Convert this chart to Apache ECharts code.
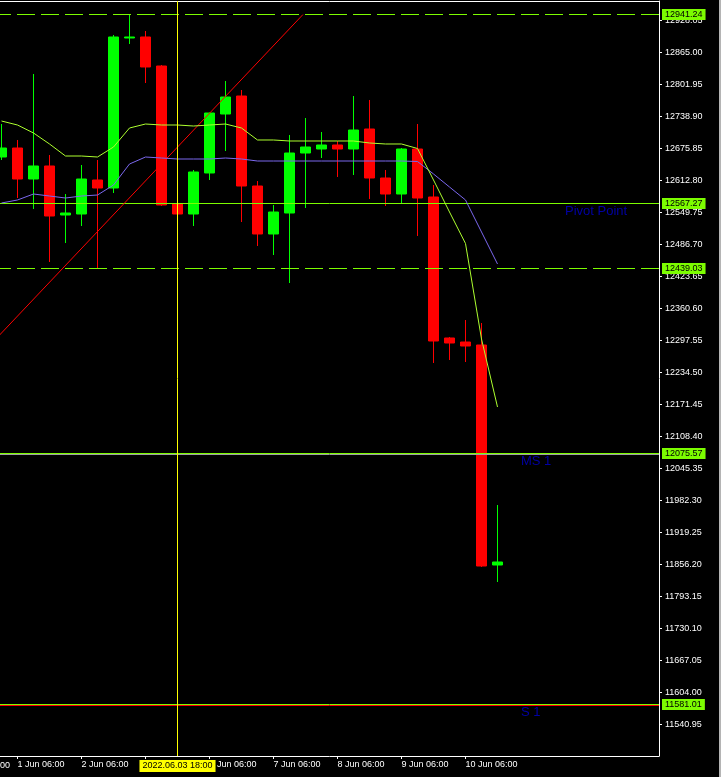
<!DOCTYPE html>
<html><head><meta charset="utf-8">
<script src="https://cdn.jsdelivr.net/npm/echarts@6/dist/echarts.min.js"></script>
<style>html,body{margin:0;padding:0;background:#000;}#c{width:721px;height:777px;}</style>
</head><body><div id="c"></div>
<script>
// ---- data ----
const times = ['1 Jun 00:00','1 Jun 06:00','1 Jun 12:00','1 Jun 18:00','2 Jun 00:00',
  '2 Jun 06:00','2 Jun 12:00','2 Jun 18:00','3 Jun 00:00',
  '3 Jun 06:00','3 Jun 12:00','3 Jun 18:00','6 Jun 00:00',
  '6 Jun 06:00','6 Jun 12:00','6 Jun 18:00','7 Jun 00:00',
  '7 Jun 06:00','7 Jun 12:00','7 Jun 18:00','8 Jun 00:00',
  '8 Jun 06:00','8 Jun 12:00','8 Jun 18:00','9 Jun 00:00',
  '9 Jun 06:00','9 Jun 12:00','9 Jun 18:00','10 Jun 00:00',
  '10 Jun 06:00','10 Jun 12:00','10 Jun 18:00'];
const opens  = [12659.50,12677.23,12616.15,12641.77,12545.22,12547.19,12614.18,12598.42,12893.97,12895.94,12838.80,12566.90,12547.19,12627.98,12744.22,12779.69,12602.36,12507.79,12549.16,12667.38,12675.26,12683.15,12675.26,12714.67,12618.12,12586.60,12675.26,12580.69,12302.88,12294.99,12289.08,11855.61];
const closes = [12677.23,12616.15,12641.77,12543.25,12549.16,12616.15,12598.42,12895.94,12895.94,12836.83,12564.93,12547.19,12629.95,12746.19,12777.72,12602.36,12507.79,12551.13,12667.38,12679.20,12683.15,12675.26,12712.70,12618.12,12586.60,12675.26,12578.72,12296.96,12293.02,12287.11,11853.64,11861.53];
const lows   = [12653.59,12578.72,12557.05,12452.62,12490.05,12523.55,12440.80,12588.57,12882.15,12805.30,12562.96,12545.22,12523.55,12614.18,12671.32,12531.43,12484.14,12466.41,12411.24,12559.02,12657.53,12620.10,12624.04,12576.75,12562.96,12566.90,12503.85,12253.62,12259.53,12255.59,11851.67,11822.12];
const highs  = [12724.52,12693.00,12823.04,12663.44,12586.60,12643.74,12653.59,12899.88,12941.24,12907.76,12840.77,12566.90,12633.89,12747.00,12809.25,12791.51,12612.21,12564.93,12702.85,12736.34,12708.76,12691.03,12779.69,12771.81,12633.89,12677.23,12724.52,12604.32,12304.85,12338.34,12332.43,11973.83];
const maFast = [12730.43,12722.55,12706.79,12685.12,12661.47,12661.47,12659.50,12679.20,12716.64,12724.52,12722.55,12722.55,12720.58,12722.55,12724.52,12716.64,12693.00,12693.00,12691.03,12691.03,12691.03,12691.03,12691.03,12687.09,12685.12,12685.12,12676.25,12614.18,12551.13,12489.07,12300.90,12166.92];
const maSlow = [12568.87,12574.78,12586.60,12582.66,12578.72,12582.66,12584.63,12604.33,12645.71,12659.50,12657.53,12655.56,12655.56,12655.56,12657.53,12655.56,12651.62,12651.62,12651.62,12651.62,12651.62,12651.62,12651.62,12651.62,12651.62,12651.62,12650.64,12626.01,12600.39,12574.78,12511.73,12448.68];
const yTicks = [11540.95,11604.00,11667.05,11730.10,11793.15,11856.20,11919.25,11982.30,12045.35,12108.40,12171.45,12234.50,12297.55,12360.60,12423.65,12486.70,12549.75,12612.80,12675.85,12738.90,12801.95,12865.00,12928.05];
const dashedLevels = [12941.24, 12439.03];
const solidLevels = [12567.27, 12075.57, 11581.01];
const pivotNames = ['Pivot Point', 'MS 1', 'S 1'];
const pivotValues = [12567.27, 12073.60, 11579.04];
const pivotLabelTime = [35.22, 32.47, 32.47];
const trendTime = [-1, 18.84];
const trendPrice = [12279.43, 12940.17];
const crosshairIndex = 11;
const crosshairTime = '2022.06.03 18:00';
const offLeftLabel = '31 May 06:00';

// ---- chart ----
const FONT = '"Liberation Sans", Arial, sans-serif';
const X_MIN = -0.09375, X_MAX = 41.09375;
const Y_MIN = 11479.29, Y_MAX = 12966.87;
const LIME = '#7cfc00';
const candleData = times.map((t, i) => [i, opens[i], closes[i], lows[i], highs[i]]);
const xTickIdx = times.map((t, i) => t.endsWith('06:00') ? i : -1).filter(i => i >= 0);

// kinds: 0 dashed lime w/ badge, 1 solid lime w/ badge, 2 gray pivot line, 3 red pivot line
const LEVEL_STYLES = [
  {color: LIME, dash: [18, 6], dashOffset: 7, badge: true},
  {color: LIME, dash: null, dashOffset: 0, badge: true},
  {color: '#a0a0a0', dash: null, dashOffset: 0, badge: false},
  {color: '#ff0000', dash: null, dashOffset: 0, badge: false}
];
const levelData = [];
dashedLevels.forEach(v => levelData.push([0, v]));
solidLevels.forEach(v => levelData.push([1, v]));
levelData.push([2, pivotValues[1]]);
levelData.push([3, pivotValues[2]]);

function renderLevel(params, api) {
  const kind = api.value(0), v = api.value(1);
  const cs = params.coordSys;
  const y = Math.floor(api.coord([X_MIN, v])[1]) + 0.5;
  const st = LEVEL_STYLES[kind];
  const children = [{
    type: 'line', silent: true,
    shape: {x1: cs.x, y1: y, x2: cs.x + cs.width, y2: y},
    style: {stroke: st.color, lineWidth: 1, lineDash: st.dash, lineDashOffset: st.dashOffset}
  }];
  if (st.badge) {
    children.push({
      type: 'text', silent: true, x: cs.x + cs.width + 3, y: y,
      style: {text: v.toFixed(2), fill: '#000', backgroundColor: LIME, padding: [1, 3, 1, 3],
        font: '9px "Liberation Sans", Arial, sans-serif', align: 'left', verticalAlign: 'middle'}
    });
  }
  return {type: 'group', children};
}

const chart = echarts.init(document.getElementById('c'), null, {renderer: 'canvas'});
chart.setOption({
  backgroundColor: '#000',
  animation: false,
  grid: {left: 0, right: 62, top: 1, bottom: 21},
  xAxis: [{
    type: 'value', min: X_MIN, max: X_MAX, position: 'bottom',
    axisLine: {show: true, onZero: false, lineStyle: {color: '#fff', width: 1}},
    axisTick: {show: true, length: 3, customValues: xTickIdx, lineStyle: {color: '#fff'}},
    axisLabel: {show: true, customValues: xTickIdx, formatter: v => times[Math.round(v)], align: 'left',
      margin: 4, color: '#fff', fontFamily: FONT, fontSize: 9},
    splitLine: {show: false}
  }, {
    type: 'value', min: X_MIN, max: X_MAX, position: 'top',
    axisLine: {show: true, onZero: false, lineStyle: {color: '#fff', width: 1}},
    axisTick: {show: false}, axisLabel: {show: false}, splitLine: {show: false}
  }],
  yAxis: {
    type: 'value', position: 'right', min: Y_MIN, max: Y_MAX,
    axisLine: {show: true, onZero: false, lineStyle: {color: '#fff', width: 1}},
    axisTick: {show: true, length: 3, customValues: yTicks, lineStyle: {color: '#fff'}},
    axisLabel: {show: true, customValues: yTicks, formatter: v => v.toFixed(2), margin: 6,
      color: '#fff', fontFamily: FONT, fontSize: 9},
    splitLine: {show: false}
  },
  series: [{
    type: 'candlestick', name: 'price', data: candleData, encode: {x: 0, y: [1, 2, 3, 4]},
    barWidth: 10, z: 1,
    itemStyle: {color: '#00ff00', color0: '#ff0000', borderColor: '#00ff00', borderColor0: '#ff0000', borderWidth: 1}
  }, {
    type: 'custom', name: 'levels', data: levelData, renderItem: renderLevel, z: 3, silent: true, clip: false
  }, {
    type: 'line', name: 'trend', data: trendTime.map((t, i) => [t, trendPrice[i]]), symbol: 'none', z: 3,
    lineStyle: {color: '#ff0000', width: 1}, silent: true
  }, {
    type: 'line', name: 'maSlow', data: maSlow.map((v, i) => [i, v]), symbol: 'none', z: 4, clip: false,
    lineStyle: {color: '#7b68ee', width: 1}, silent: true,
    markLine: {symbol: ['none', 'none'], silent: true, animation: false, data: [{
      xAxis: crosshairIndex, lineStyle: {color: '#ffff00', width: 1, type: 'solid'},
      label: {show: true, position: 'start', distance: 4, formatter: crosshairTime, backgroundColor: '#ffff00',
        color: '#000', padding: [1, 3], fontFamily: FONT, fontSize: 9, lineHeight: 10}
    }]}
  }, {
    type: 'line', name: 'maFast', data: maFast.map((v, i) => [i, v]), symbol: 'none', z: 4,
    lineStyle: {color: '#adff2f', width: 1}, silent: true
  }, {
    type: 'scatter', name: 'pivotLabels', symbolSize: 0.1, z: 5, silent: true,
    itemStyle: {color: 'rgba(0,0,0,0)'},
    data: pivotNames.map((n, i) => ({name: n, value: [pivotLabelTime[i], pivotValues[i]]})),
    label: {show: true, formatter: '{b}', position: [0, 1], align: 'left', verticalAlign: 'top',
      color: '#0000cd', fontFamily: FONT, fontSize: 13}
  }],
  graphic: [{
    type: 'text', x: 10, y: 761, silent: true,
    style: {text: offLeftLabel, fill: '#fff', font: '9px "Liberation Sans", Arial, sans-serif', align: 'right', verticalAlign: 'top'}
  }, {
    type: 'rect', shape: {x: 719, y: 0, width: 2, height: 777}, silent: true, style: {fill: '#b4b4b4'}
  }]
});
</script></body></html>
